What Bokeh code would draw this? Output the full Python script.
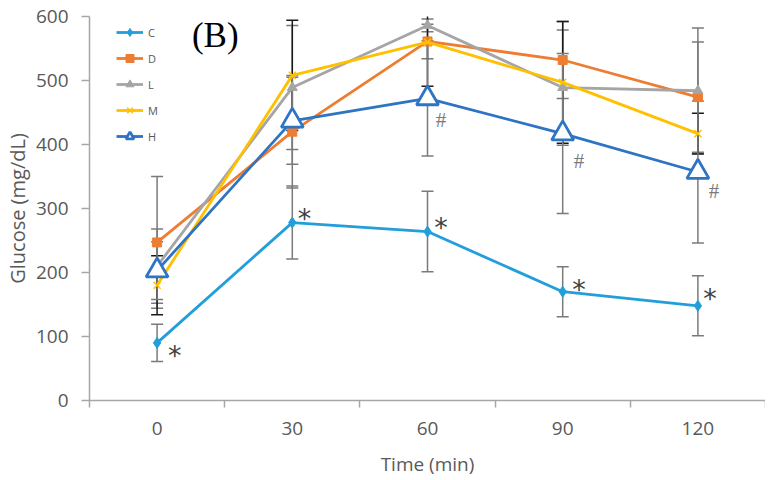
from bokeh.plotting import figure
from bokeh.models import (ColumnDataSource, Whisker, FixedTicker, Legend, LegendItem,
                          Label, Range1d)
from bokeh.core.properties import value
from bokeh.embed import file_html
from bokeh.resources import INLINE

# ---- data ----
time_labels = ["0", "30", "60", "90", "120"]
xi = [0, 1, 2, 3, 4]

C = [90, 278, 264, 170, 148]
C_err = [29, 57, 63, 39, 47]
D = [247, 420, 561, 532, 474]
D_err = [103, 88, 27, 60, 86]
L = [210, 489, 586, 489, 484]
L_err = [58, 97, 10, 90, 98]
M = [180, 508, 560, 497, 417]
M_err = [46, 86, 69, 95, 32]
H = [203, 437, 472, 417, 357]
H_err = [45, 68, 90, 125, 111]

# significance marks
star_x = [0.13, 1.09, 2.1, 3.12, 4.09]
star_y = [78, 292, 278, 181, 167]
hash_x = [2.1, 3.12, 4.12]
hash_y = [439, 375, 327]

GRAY_TXT = "#595959"
AX = "#a6a6a6"
FONT = "Open Sans"

p = figure(width=765, height=479, output_backend="svg", toolbar_location=None,
           x_range=Range1d(-0.5, 4.5), y_range=Range1d(0, 600),
           min_border_left=81, min_border_right=0, min_border_top=16,
           min_border_bottom=79)
p.outline_line_color = None
p.xgrid.grid_line_color = None
p.ygrid.grid_line_color = None
p.background_fill_color = "white"

# axes
xa = p.xaxis[0]
xa.ticker = FixedTicker(ticks=xi, minor_ticks=[-0.5, 0.5, 1.5, 2.5, 3.5, 4.5])
xa.major_label_overrides = {i: t for i, t in zip(xi, time_labels)}
xa.major_tick_line_color = None
xa.minor_tick_line_color = AX
xa.minor_tick_out = 7
xa.minor_tick_in = 0
xa.minor_tick_line_width = 1.5
xa.axis_line_color = AX
xa.axis_line_width = 1.5
xa.major_label_text_font = FONT
xa.major_label_text_font_size = "19px"
xa.major_label_text_color = GRAY_TXT
xa.major_label_standoff = 14
xa.axis_label = "Time (min)"
xa.axis_label_text_font = FONT
xa.axis_label_text_font_size = "19px"
xa.axis_label_text_font_style = "normal"
xa.axis_label_text_color = GRAY_TXT
xa.axis_label_standoff = 13

ya = p.yaxis[0]
ya.ticker = FixedTicker(ticks=[0, 100, 200, 300, 400, 500, 600], minor_ticks=[])
ya.major_tick_out = 8
ya.major_tick_in = 0
ya.major_tick_line_color = AX
ya.major_tick_line_width = 1.5
ya.axis_line_color = AX
ya.axis_line_width = 1.5
ya.major_label_text_font = FONT
ya.major_label_text_font_size = "19px"
ya.major_label_text_color = GRAY_TXT
ya.major_label_standoff = 13
ya.axis_label = "Glucose (mg/dL)"
ya.axis_label_text_font = FONT
ya.axis_label_text_font_size = "20px"
ya.axis_label_text_font_style = "normal"
ya.axis_label_text_color = GRAY_TXT
ya.axis_label_standoff = 2

series = [
    ("C", C, C_err, "#229fdb", "diamond", 11, "#7a7a7a"),
    ("D", D, D_err, "#ed7d31", "square", 9, "#7a7a7a"),
    ("L", L, L_err, "#a5a5a5", "triangle", 10, "#7a7a7a"),
    ("M", M, M_err, "#ffc000", "x", 10, "#1a1a1a"),
    ("H", H, H_err, "#2e74c4", "triangle", 22, "#7a7a7a"),
]

# error bars
for name, ys, errs, col, mk, sz, ecol in series:
    src = ColumnDataSource(dict(x=xi, lo=[a - b for a, b in zip(ys, errs)],
                                hi=[a + b for a, b in zip(ys, errs)]))
    w = Whisker(base="x", lower="lo", upper="hi", source=src,
                line_color=ecol, line_width=1.5)
    w.upper_head.size = 12
    w.lower_head.size = 12
    w.upper_head.line_color = ecol
    w.lower_head.line_color = ecol
    w.upper_head.line_width = 1.5
    w.lower_head.line_width = 1.5
    p.add_layout(w)

items = []
for name, ys, errs, col, mk, sz, ecol in series:
    src = ColumnDataSource(dict(x=xi, y=ys))
    ln = p.line("x", "y", source=src, line_color=col, line_width=2.8)
    if name == "H":
        sc = p.scatter("x", "y", source=src, marker=mk, size=sz,
                       fill_color="white", line_color=col, line_width=2.8)
    elif mk == "x":
        sc = p.scatter("x", "y", source=src, marker=mk, size=sz,
                       line_color=col, line_width=1.5)
    else:
        sc = p.scatter("x", "y", source=src, marker=mk, size=sz,
                       fill_color=col, line_color=col)
    items.append(LegendItem(label=name, renderers=[ln, sc]))

legend = Legend(items=items, location=(27, 254), padding=0, margin=0,
                border_line_color=None, background_fill_alpha=0,
                glyph_width=27, glyph_height=20, label_height=20, spacing=6,
                label_standoff=5, label_text_font=FONT,
                label_text_font_size="11px", label_text_color=GRAY_TXT)
p.add_layout(legend)

# significance marks
p.text(x=star_x, y=star_y, text=["*"] * len(star_x), text_font=value("DejaVu Sans"),
       text_font_size="27px", text_color="#404040", text_align="center",
       text_baseline="middle", y_offset=5)
p.text(x=hash_x, y=hash_y, text=["#"] * len(hash_x), text_font=value("Liberation Serif"),
       text_font_size="21px", text_color="#7a7a7a", text_align="center",
       text_baseline="middle")

p.add_layout(Label(x=0.43, y=570, text="(B)", text_font="Liberation Serif",
                   text_font_size="35px", text_color="black", text_align="center",
                   text_baseline="middle"))

open("out.html", "w").write(file_html(p, INLINE))
